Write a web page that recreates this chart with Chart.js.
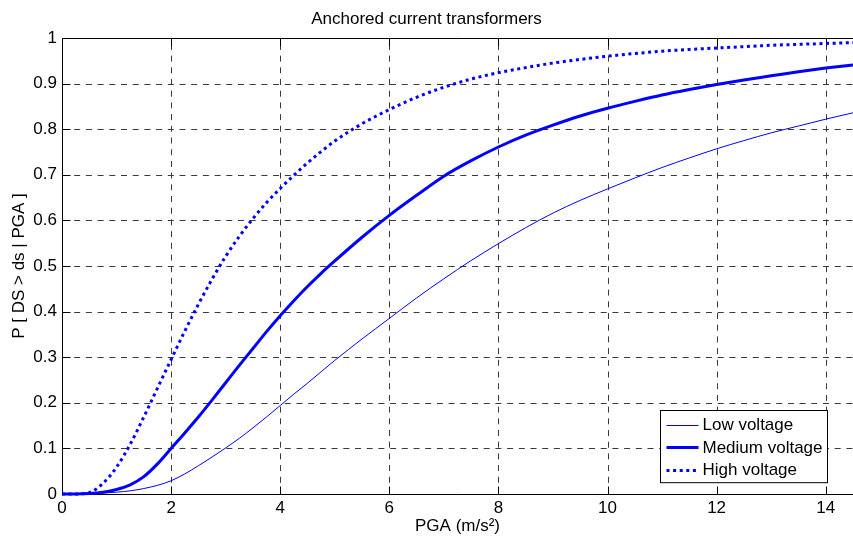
<!DOCTYPE html>
<html>
<head>
<meta charset="utf-8">
<script src="https://cdn.jsdelivr.net/npm/chart.js@4/dist/chart.umd.min.js"></script>
<style>
  html, body { margin: 0; padding: 0; background: #fff; }
  #wrap { width: 853px; height: 542px; }
</style>
</head>
<body>
<div id="wrap"><canvas id="c" width="853" height="542"></canvas></div>
<script>
// ---- Data ----
const chartTitle = 'Anchored current transformers';
const xTitle = 'PGA (m/s\u00B2)';
const yTitle = 'P [ DS > ds | PGA ]';
const seriesNames = ['Low voltage', 'Medium voltage', 'High voltage'];
const xTicks = [0, 2, 4, 6, 8, 10, 12, 14];
const yTicks = [0, 0.1, 0.2, 0.3, 0.4, 0.5, 0.6, 0.7, 0.8, 0.9, 1];

const pga = [0,0.25,0.5,0.75,1,1.25,1.5,1.75,2,2.25,2.5,2.75,3,3.25,3.5,3.75,4,4.25,4.5,4.75,5,
             5.5,6,6.5,7,7.5,8,8.5,9,9.5,10,10.5,11,11.5,12,12.5,13,13.5,14,14.5];
const lowVoltage = [0,0.0001,0.0005,0.002,0.004,0.007,0.012,0.019,0.029,0.044,0.062,0.081,0.101,0.122,0.145,0.169,0.194,0.219,0.243,0.268,0.293,
                    0.340,0.385,0.430,0.472,0.512,0.549,0.584,0.616,0.644,0.669,0.693,0.716,0.737,0.757,0.775,0.792,0.807,0.822,0.836];
const mediumVoltage = [0,0,0.001,0.004,0.010,0.020,0.038,0.066,0.100,0.134,0.169,0.206,0.244,0.282,0.319,0.356,0.391,0.424,0.455,0.484,0.511,
                       0.563,0.611,0.655,0.697,0.731,0.761,0.787,0.809,0.829,0.846,0.861,0.875,0.887,0.898,0.908,0.917,0.926,0.934,0.941];
const highVoltage = [0,0,0.003,0.023,0.059,0.109,0.169,0.232,0.295,0.357,0.416,0.471,0.521,0.565,0.604,0.639,0.670,0.699,0.726,0.751,0.774,
                     0.812,0.843,0.870,0.892,0.910,0.924,0.935,0.945,0.953,0.960,0.966,0.971,0.975,0.978,0.981,0.984,0.986,0.988,0.990];

// ---- Styling ----
const FONT = '"Liberation Sans", Arial, Helvetica, sans-serif';
const BLUE = '#0000ff';
Chart.defaults.font.family = FONT;
Chart.defaults.color = '#000';

const toPts = (ys) => pga.map((x, i) => ({ x: x, y: ys[i] }));

const frameGridTicks = {
  id: 'frameGridTicks',
  beforeDatasetsDraw(chart) {
    const { ctx, chartArea: a, scales } = chart;
    const L = Math.round(a.left) + 0.5, T = Math.round(a.top) + 0.5;
    const B = Math.round(a.bottom) + 0.5, R = a.right;
    ctx.save();
    // dashed grid
    ctx.strokeStyle = '#3a3a3a';
    ctx.lineWidth = 1;
    ctx.setLineDash([6, 5.7]);
    ctx.beginPath();
    xTicks.forEach(v => {
      if (v === 0) return;
      const px = Math.round(scales.x.getPixelForValue(v)) + 0.5;
      ctx.moveTo(px, B); ctx.lineTo(px, T);
    });
    yTicks.forEach(v => {
      if (v === 0 || v === 1) return;
      const py = Math.round(scales.y.getPixelForValue(v)) + 0.5;
      ctx.moveTo(L, py); ctx.lineTo(R, py);
    });
    ctx.stroke();
    // solid frame and inward ticks
    ctx.setLineDash([]);
    ctx.strokeStyle = '#000';
    ctx.beginPath();
    ctx.moveTo(R, T); ctx.lineTo(L, T); ctx.lineTo(L, B); ctx.lineTo(R, B);
    const tl = 8;
    xTicks.forEach(v => {
      const px = Math.round(scales.x.getPixelForValue(v)) + 0.5;
      ctx.moveTo(px, B); ctx.lineTo(px, B - tl);
      ctx.moveTo(px, T); ctx.lineTo(px, T + tl);
    });
    yTicks.forEach(v => {
      const py = Math.round(scales.y.getPixelForValue(v)) + 0.5;
      ctx.moveTo(L, py); ctx.lineTo(L + tl, py);
    });
    ctx.stroke();
    ctx.restore();
  }
};

const boxLegend = {
  id: 'boxLegend',
  afterDraw(chart) {
    const { ctx, chartArea: a } = chart;
    const ds = chart.data.datasets;
    ctx.save();
    ctx.font = '17px ' + FONT;
    let maxW = 0;
    ds.forEach(d => { maxW = Math.max(maxW, ctx.measureText(d.label).width); });
    const rowH = 22.4;
    const lineLen = 32, padL = 6, gap = 4, padR = 5, padV = 3;
    const w = padL + lineLen + gap + maxW + padR;
    const h = rowH * ds.length + padV * 2 - 1;
    const x0 = Math.round(a.right - 26 - w) + 0.5;
    const y0 = Math.round(a.bottom - 12 - h) + 0.5;
    ctx.fillStyle = '#fff';
    ctx.fillRect(x0, y0, w, h);
    ctx.strokeStyle = '#000';
    ctx.lineWidth = 1;
    ctx.setLineDash([]);
    ctx.strokeRect(x0, y0, w, h);
    ds.forEach((d, i) => {
      const cy = y0 + padV + rowH * (i + 0.5);
      const ly = Math.round(cy) + (d.borderWidth % 2 ? 0.5 : 0);
      ctx.save();
      ctx.strokeStyle = d.borderColor;
      ctx.lineWidth = d.borderWidth;
      ctx.setLineDash(d.borderDash || []);
      ctx.lineCap = 'butt';
      ctx.beginPath();
      ctx.moveTo(x0 + padL, ly);
      ctx.lineTo(x0 + padL + lineLen, ly);
      ctx.stroke();
      ctx.restore();
      ctx.fillStyle = '#000';
      ctx.textAlign = 'left';
      ctx.textBaseline = 'middle';
      ctx.fillText(d.label, x0 + padL + lineLen + gap, cy + 1);
    });
    ctx.restore();
  }
};

new Chart(document.getElementById('c'), {
  type: 'line',
  data: {
    datasets: [
      { label: seriesNames[0], data: toPts(lowVoltage), borderColor: BLUE, borderWidth: 1,
        pointRadius: 0, cubicInterpolationMode: 'monotone', clip: false },
      { label: seriesNames[1], data: toPts(mediumVoltage), borderColor: BLUE, borderWidth: 3,
        pointRadius: 0, cubicInterpolationMode: 'monotone', clip: false },
      { label: seriesNames[2], data: toPts(highVoltage), borderColor: BLUE, borderWidth: 3,
        borderDash: [3, 3.6], borderCapStyle: 'butt',
        pointRadius: 0, cubicInterpolationMode: 'monotone', clip: false }
    ]
  },
  options: {
    responsive: false,
    animation: false,
    devicePixelRatio: 1,
    layout: { padding: { left: 0, right: 0, top: 0, bottom: 0 } },
    plugins: {
      legend: { display: false },
      tooltip: { enabled: false },
      title: {
        display: true, text: chartTitle, color: '#000',
        font: { size: 17, weight: 'normal', family: FONT },
        padding: { top: 9, bottom: 8.6 }
      }
    },
    scales: {
      x: {
        type: 'linear', min: 0, max: 14.5,
        afterBuildTicks: (s) => { s.ticks = xTicks.map(v => ({ value: v })); },
        afterFit: (s) => { s.height = 48; },
        ticks: { font: { size: 17 }, padding: 4, color: '#000', maxRotation: 0,
                 callback: (v) => String(v) },
        grid: { display: false, drawTicks: false },
        border: { display: false },
        title: { display: true, text: xTitle, color: '#000',
                 font: { size: 17, family: FONT }, padding: { top: 0, bottom: 5 } }
      },
      y: {
        type: 'linear', min: 0, max: 1,
        afterBuildTicks: (s) => { s.ticks = yTicks.map(v => ({ value: v })); },
        afterFit: (s) => { s.width = 62; },
        ticks: { font: { size: 17 }, padding: 5, color: '#000',
                 callback: (v) => String(Math.round(v * 10) / 10) },
        grid: { display: false, drawTicks: false },
        border: { display: false },
        title: { display: true, text: yTitle, color: '#000',
                 font: { size: 17, family: FONT }, padding: { top: 9, bottom: 0 } }
      }
    }
  },
  plugins: [frameGridTicks, boxLegend]
});
</script>
</body>
</html>
